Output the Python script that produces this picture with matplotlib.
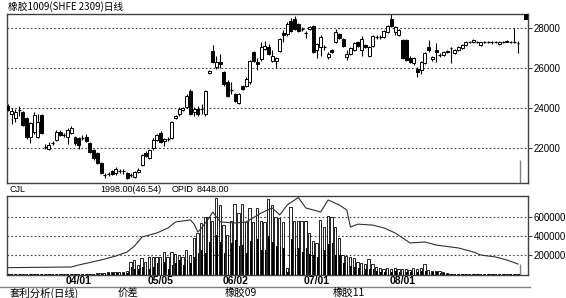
import numpy as np
import matplotlib
matplotlib.use("Agg")
import matplotlib.pyplot as plt
from matplotlib.patches import Rectangle

plt.rcParams['font.family'] = ['Liberation Sans', 'Noto Sans CJK SC', 'DejaVu Sans']
CJK = ['Noto Sans CJK SC', 'DejaVu Sans']

# daily candles (price)
opens = [24100, 23700, 23500, 23900, 23800, 23500, 22550, 22800, 22550, 23650,
         22050, 21950, 22250, 22400, 22800, 22650, 22550, 22750, 22550, 22500,
         22500, 22550, 22250, 21900, 21750, 21250, 20650, 20700, 20850, 20750,
         20850, 20850, 20750, 20650, 20550, 20800, 21150, 21750, 21500, 22000,
         22400, 22750, 22350, 22450, 22500, 23500, 23700, 23900, 24050, 24850,
         23800, 23950, 23950, 23700, 25750, 26850, 26050, 26300, 25800, 25300,
         24900, 24700, 24250, 25100, 25100, 25300, 26800, 26300, 26450, 26950,
         27050, 26350, 26350, 26850, 27750, 27700, 28350, 28450, 28200, 27950,
         27750, 27950, 28100, 26900, 27050, 27050, 26550, 26900, 27300, 27700,
         27450, 26550, 26700, 26900, 27300, 26900, 27150, 26600, 27100, 27550,
         27550, 27550, 27800, 28450, 27800, 27650, 27400, 27400, 26500, 26250,
         25950, 25900, 26250, 27050, 26450, 26900, 26650, 26650, 26850, 27000,
         26750, 26900, 27000, 27150, 27300, 27300, 27300, 27150, 27300, 27300,
         27300, 27300, 27200, 27300, 27350, 27300, 27300, 27250]
highs = [24200, 24000, 23950, 24100, 23850, 23550, 23300, 23800, 23700, 23700,
         22200, 22300, 22350, 22900, 22900, 22750, 23000, 23100, 22600, 22550,
         22650, 22700, 22300, 21950, 21800, 21300, 20750, 20800, 20900, 21050,
         20950, 20950, 20800, 20750, 20850, 21000, 21700, 21850, 21950, 22500,
         22700, 22850, 22500, 22550, 23350, 23650, 24050, 24050, 24700, 24950,
         24050, 24100, 24200, 24900, 25900, 27150, 26600, 26700, 25850, 25400,
         25300, 24750, 24750, 25150, 25550, 26400, 26850, 26500, 27300, 27350,
         27200, 26900, 26550, 27500, 27900, 28300, 28500, 28600, 28250, 28050,
         27850, 28100, 28150, 27250, 27650, 27150, 26800, 26950, 27950, 27750,
         27500, 26900, 27050, 27300, 27350, 27600, 27200, 27100, 27650, 27650,
         27650, 27900, 28150, 28700, 28100, 27950, 27450, 27450, 26600, 26550,
         26050, 26350, 26800, 27400, 26600, 27250, 26750, 26850, 26900, 27050,
         26950, 27100, 27200, 27350, 27350, 27450, 27350, 27300, 27350, 27350,
         27350, 27350, 27350, 27350, 27400, 27350, 28000, 27350]
lows = [23850, 23200, 23300, 23600, 23100, 22450, 22250, 22700, 22500, 22700,
        21950, 21900, 22150, 22350, 22600, 22550, 22200, 22700, 22150, 21950,
        22400, 22300, 21750, 21400, 21200, 20700, 20500, 20600, 20650, 20650,
        20750, 20700, 20450, 20550, 20500, 20750, 21100, 21550, 21450, 21900,
        22350, 22250, 22100, 22350, 22450, 23450, 23600, 23850, 24000, 23650,
        23600, 23600, 23700, 23600, 25700, 26250, 25950, 26000, 25100, 24550,
        24700, 24300, 24200, 24900, 25050, 25200, 26300, 25900, 26350, 26900,
        26650, 26300, 26000, 26800, 27300, 27600, 27800, 27900, 27800, 27850,
        27500, 27900, 26750, 26500, 26600, 26900, 26450, 26750, 27250, 27450,
        27050, 26400, 26650, 26850, 27050, 26600, 27000, 26550, 27050, 27450,
        27450, 27500, 27750, 28050, 27650, 27600, 26450, 26350, 26250, 26150,
        25550, 25700, 26200, 26800, 26350, 26300, 26550, 26600, 26750, 26250,
        26700, 26850, 26950, 27100, 27250, 27250, 27250, 27100, 27250, 27250,
        27200, 27250, 27150, 27250, 27300, 27250, 27250, 26750]
closes = [23900, 23850, 23800, 23900, 23150, 22550, 23250, 23650, 23300, 22750,
          22050, 22150, 22250, 22800, 22650, 22650, 22900, 23000, 22250, 22150,
          22500, 22350, 21800, 21500, 21250, 20750, 20650, 20700, 20700, 20950,
          20850, 20850, 20500, 20650, 20800, 20900, 21650, 21600, 21900, 22400,
          22650, 22300, 22450, 22450, 23300, 23600, 23950, 24000, 24600, 23700,
          23950, 23700, 23950, 24850, 25850, 26300, 26300, 26200, 25200, 24600,
          24900, 24350, 24700, 24950, 25450, 26350, 26350, 26200, 27050, 27100,
          26700, 26600, 26500, 27450, 27650, 28200, 27850, 27950, 27850, 27950,
          27750, 28050, 26800, 27200, 27550, 27050, 26700, 26800, 27800, 27500,
          27100, 26700, 27000, 27250, 27100, 27450, 27050, 27050, 27600, 27550,
          27550, 27850, 28100, 28100, 28050, 27900, 26500, 26400, 26300, 26500,
          25800, 26300, 26750, 26900, 26550, 26800, 26650, 26800, 26800, 27000,
          26900, 27050, 27150, 27300, 27300, 27400, 27300, 27300, 27300, 27300,
          27300, 27300, 27300, 27300, 27300, 27300, 27300, 27250]

# volume, thousands (hollow bars = 09, filled = 11)
vol_a = [2, 2, 2, 2, 2, 2, 2, 2, 2, 2, 2, 2, 2, 2, 2, 2, 3, 3, 4,
         6, 6, 8, 8, 10, 12, 12, 15, 25, 28, 25, 30, 30, 35,
         130, 150, 100, 170, 130, 180, 185, 185, 185, 235, 185, 235, 220, 210,
         180, 260, 200, 385, 435, 540, 600, 600, 560, 800, 730, 520, 420, 560,
         740, 650, 740, 550, 700, 550, 700, 560, 550, 790, 730, 600, 590, 550,
         70, 710, 560, 560, 560, 560, 440, 350, 330, 570, 500, 620, 610, 500,
         380, 210, 190, 180, 170, 130, 120, 110, 160, 110, 80, 70, 60, 70, 60,
         65, 60, 55, 60, 45, 70, 60, 70, 110, 50, 40, 40, 35, 25, 20,
         10, 8, 8, 10, 6, 8, 10, 6, 5, 6, 5, 4, 5, 4, 4, 3, 3, 3, 3]
vol_b = [1, 1, 1, 1, 1, 1, 1, 1, 1, 1, 1, 1, 1, 1, 1, 1, 2, 2, 3,
         8, 6, 8, 6, 8, 10, 10, 10, 15, 15, 18, 15, 20, 20,
         80, 60, 60, 80, 60, 60, 80, 120, 100, 130, 60, 100, 120, 150,
         100, 150, 120, 185, 225, 260, 230, 340, 300, 415, 340, 230, 270, 330,
         360, 300, 310, 230, 350, 260, 370, 260, 260, 400, 340, 300, 290, 280,
         30, 370, 280, 280, 240, 280, 220, 200, 180, 260, 260, 320, 330, 200,
         200, 120, 100, 90, 80, 70, 60, 55, 60, 55, 40, 30, 30, 35, 30,
         35, 30, 30, 25, 28, 35, 30, 40, 40, 30, 25, 25, 20, 15, 10,
         6, 5, 5, 6, 4, 5, 6, 4, 3, 4, 3, 3, 3, 2, 2, 2, 2, 2, 2]

# open interest line (day index, thousands)
oi_day = [0, 17, 19, 25, 29, 32, 34, 36, 40, 43, 45, 49, 50, 51, 52, 54, 55, 57,
          61, 64, 68, 71, 73, 75, 78, 80, 84, 86, 89, 91, 92, 94, 98, 101, 104,
          108, 112, 115, 121, 125, 127, 131, 134, 137]
oi_k = [72, 79, 100, 153, 195, 237, 300, 395, 437, 490, 553, 574, 530, 447, 490,
        595, 658, 553, 542, 553, 647, 700, 626, 731, 810, 700, 658, 784, 731, 679,
        500, 530, 520, 490, 437, 332, 342, 310, 279, 237, 205, 184, 153, 110]

date_labels = ['04/01', '05/05', '06/02', '07/01', '08/01']
date_idx = [19, 41, 61, 83, 106]
price_ticks = [22000, 24000, 26000, 28000]
vol_ticks = [200000, 400000, 600000]

W, H = 566, 298
fig = plt.figure(figsize=(W / 100, H / 100), dpi=100)

def box(x0, y0, x1, y1):
    return [x0 / W, 1 - y1 / H, (x1 - x0) / W, (y1 - y0) / H]

frame = '#404040'
step = (518 - 8) / (len(opens) - 1)
xmin = -1 / step
xmax = xmin + 521 / step

def style(ax, ticks, labels):
    ax.set_xlim(xmin, xmax)
    for s in ax.spines.values():
        s.set_color(frame)
        s.set_linewidth(1)
    ax.set_xticks([])
    ax.yaxis.tick_right()
    ax.set_yticks(ticks)
    ax.set_yticklabels(labels, fontsize=7)
    ax.tick_params(axis='y', length=3, width=0.8, pad=1, color=frame)
    for t in ticks:
        ax.axhline(t, color=frame, lw=0.8, ls=(0, (1.5, 2)), zorder=1)

# price panel
axp = fig.add_axes(box(7, 14, 528, 183))
style(axp, price_ticks, [str(t) for t in price_ticks])
axp.set_ylim(20250, 28700)
idx = np.arange(len(opens))
o, h, l, c = map(np.array, (opens, highs, lows, closes))
axp.vlines(idx, l, h, color='black', lw=0.8, zorder=2)
bw = 0.8
for i in idx:
    lo, hi = min(o[i], c[i]), max(o[i], c[i])
    if o[i] == c[i]:
        axp.hlines(c[i], i - bw / 2, i + bw / 2, color='black', lw=0.9, zorder=3)
    else:
        fc = 'black' if c[i] < o[i] else 'white'
        axp.add_patch(Rectangle((i - bw / 2, lo), bw, hi - lo, facecolor=fc,
                                edgecolor='black', lw=0.7, zorder=3))
axp.vlines(137.6, 20250, 21400, color='#808080', lw=1, zorder=2)
axp.add_patch(Rectangle((0.992, 0.965), 0.008, 0.035, transform=axp.transAxes,
                        facecolor='black', edgecolor='none', zorder=4))

# volume panel
axv = fig.add_axes(box(7, 196, 528, 274.5))
style(axv, vol_ticks, [str(t) for t in vol_ticks])
axv.set_ylim(0, 826000)
va = np.array(vol_a) * 1000
vb = np.array(vol_b) * 1000
axv.bar(idx - 0.12, va, width=0.62, facecolor='white', edgecolor='black', lw=0.6, zorder=2)
axv.bar(idx + 0.2, vb, width=0.45, color='black', lw=0, zorder=3)
axv.plot(oi_day, np.array(oi_k) * 1000, color='#303030', lw=0.8, zorder=4)
axv.vlines(137.6, 0, 110000, color='#808080', lw=1, zorder=4)

# dates under volume panel
for lab, d in zip(date_labels, date_idx):
    fig.text((7 + (d - xmin) * step) / W, 1 - 281 / H, lab, fontsize=7.5,
             fontweight='bold', ha='center', va='center')

# strip texts
fig.text(10 / W, 1 - 190 / H, 'CJL', fontsize=6.5, va='center')
fig.text(100 / W, 1 - 190 / H, '1998.00(46.54)', fontsize=6.5, va='center')
fig.text(172 / W, 1 - 190 / H, 'OPID', fontsize=6.5, va='center')
fig.text(197 / W, 1 - 190 / H, '8448.00', fontsize=6.5, va='center')

fig.text(8 / W, 1 - 7 / H, '橡胶1009(SHFE 2309)日线', fontsize=7, family=CJK, va='center')

fig.add_artist(plt.Line2D([0, 530 / W], [1 - 287 / H, 1 - 287 / H], color='#808080', lw=1))
fig.text(10 / W, 1 - 293 / H, '套利分析(日线)', fontsize=7.5, family=CJK, va='center')
fig.text(118 / W, 1 - 293 / H, '价差', fontsize=7.5, family=CJK, va='center')
fig.text(225 / W, 1 - 293 / H, '橡胶09', fontsize=7.5, family=CJK, va='center')
fig.text(333 / W, 1 - 293 / H, '橡胶11', fontsize=7.5, family=CJK, va='center')

fig.savefig('out.png', dpi=100, facecolor='white')
